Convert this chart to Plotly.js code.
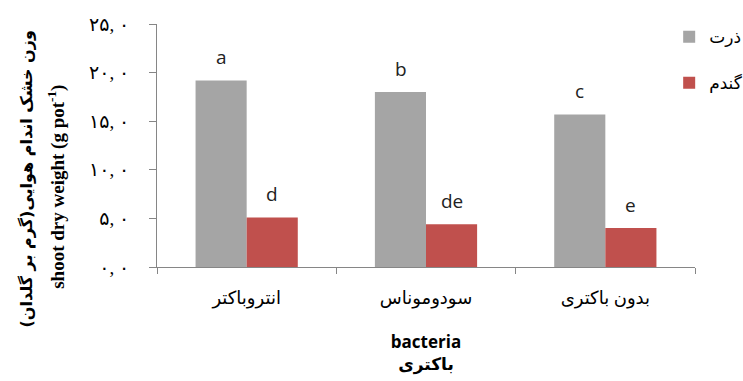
<!DOCTYPE html>
<html><head><meta charset="utf-8">
<script src="https://cdn.plot.ly/plotly-3.0.1.min.js"></script>
<style>body{margin:0;background:#fff}#c{width:743px;height:381px}</style>
</head><body><div id="c"></div>
<script>
const categories = ["انتروباکتر", "سودوموناس", "بدون باکتری"];
const seriesNames = ["ذرت", "گندم"];
const cornValues = [19.2, 18.0, 15.7];
const wheatValues = [5.1, 4.4, 4.0];
const cornLetters = ["a", "b", "c"];
const wheatLetters = ["d", "de", "e"];
const yTickVals = [0, 5, 10, 15, 20, 25];
const yTickText = ["۰, ۰", "۵, ۰", "۱۰, ۰", "۱۵, ۰", "۲۰, ۰", "۲۵, ۰"];

const serif = "Liberation Serif, DejaVu Serif, DejaVu Sans, serif";
const traces = [
  {type: "bar", name: seriesNames[0], x: categories, y: cornValues, marker: {color: "#A5A5A5"}, legendgroup: "g1"},
  {type: "bar", name: seriesNames[1], x: categories, y: wheatValues, marker: {color: "#C0504D"}, legendgroup: "g2"}
];
const ann = [];
categories.forEach((c, i) => {
  ann.push({x: c, y: cornValues[i], text: cornLetters[i], showarrow: false, xshift: -25.5, yshift: 23, yanchor: "middle",
            font: {family: "Open Sans, sans-serif", size: 19, color: "#222"}});
  ann.push({x: c, y: wheatValues[i], text: wheatLetters[i], showarrow: false, xshift: 25.5, yshift: 23, yanchor: "middle",
            font: {family: "Open Sans, sans-serif", size: 19, color: "#222"}});
});
ann.push({xref: "paper", yref: "paper", x: 0, y: 0.36, xshift: -130, textangle: -90, showarrow: false,
          xanchor: "center", yanchor: "middle",
          text: "<b>وزن خشک اندام هوایی(گرم بر گلدان)</b>",
          font: {family: "DejaVu Sans, serif", size: 16, color: "#000"}});
ann.push({xref: "paper", yref: "paper", x: 0, y: 0.33, xshift: -100, textangle: -90, showarrow: false,
          xanchor: "center", yanchor: "middle",
          text: "<b>shoot dry weight (g pot<sup>-1</sup>)</b>",
          font: {family: serif, size: 19, color: "#000"}});

const layout = {
  width: 743, height: 381,
  margin: {l: 157, r: 48, t: 24, b: 114, autoexpand: false},
  paper_bgcolor: "#fff", plot_bgcolor: "#fff",
  barmode: "group", bargap: 0.43, bargroupgap: 0,
  showlegend: true,
  legend: {x: 0.952, xanchor: "left", y: 1.02, yanchor: "top", traceorder: "grouped", tracegroupgap: 21,
           font: {family: "DejaVu Sans, serif", size: 17, color: "#000"}, bgcolor: "rgba(0,0,0,0)"},
  xaxis: {type: "category", showline: true, linecolor: "#868686", linewidth: 1, ticks: "outside", tickson: "boundaries",
          ticklen: 6, tickcolor: "#868686", showgrid: false, zeroline: false, ticklabelstandoff: 14,
          tickfont: {family: serif, size: 18, color: "#000"},
          title: {text: "<b>bacteria</b><br><b>باکتری</b>", standoff: 28, font: {family: "Open Sans, DejaVu Sans, sans-serif", size: 17, color: "#000"}}},
  yaxis: {range: [0, 25], showline: true, linecolor: "#868686", linewidth: 1, ticks: "outside", ticklen: 7, tickcolor: "#868686",
          showgrid: false, zeroline: false, tickvals: yTickVals, ticktext: yTickText, ticklabelstandoff: 16,
          tickfont: {family: serif, size: 19, color: "#000"}},
  annotations: ann
};
Plotly.newPlot("c", traces, layout, {displayModeBar: false, staticPlot: true});
</script></body></html>
